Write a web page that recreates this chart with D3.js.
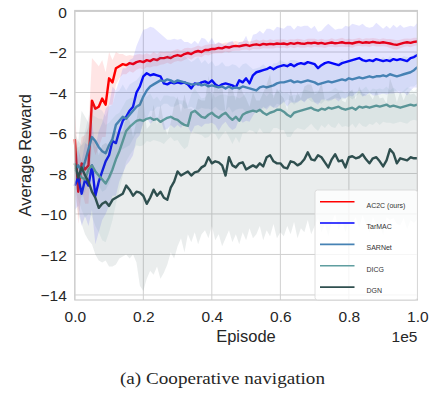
<!DOCTYPE html>
<html>
<head>
<meta charset="utf-8">
<script src="https://cdn.jsdelivr.net/npm/d3@7"></script>
<style>
  body { margin: 0; background: #fff; }
  svg text { font-family: "Liberation Sans", Arial, sans-serif; fill: #262626; }
  .caption { font-family: "Liberation Serif", "DejaVu Serif", serif; }
</style>
</head>
<body>
<div id="chart"></div>
<script>
// episodes, sampled every 1000 (0 .. 1e5)
const episodes = d3.range(0, 100001, 1000);

const yTicks = [0, -2, -4, -6, -8, -10, -12, -14];
const xTicks = [0, 20000, 40000, 60000, 80000, 100000];

const names = ["AC2C (ours)", "TarMAC", "SARNet", "DICG", "DGN"];
const colors = ["#ff0000", "#0000ff", "#4682b4", "#5f9ea0", "#2f4f4f"];

const ac2c = [-6.3,-8.9,-7.5,-7.8,-7.6,-4.4,-4.8,-4.7,-4.3,-4.6,-3.3,-3.5,-2.8,-2.7,-2.6,-2.65,-2.55,-2.6,-2.5,-2.45,
  -2.5,-2.4,-2.45,-2.35,-2.4,-2.3,-2.3,-2.25,-2.3,-2.2,
  -2.15,-2.2,-2.1,-2.05,-2.1,-2.0,-1.95,-2.0,-1.9,-1.9,
  -1.85,-1.85,-1.8,-1.82,-1.75,-1.78,-1.72,-1.7,-1.72,-1.68,
  -1.65,-1.7,-1.65,-1.62,-1.66,-1.6,-1.63,-1.6,-1.62,-1.58,
  -1.6,-1.58,-1.62,-1.56,-1.6,-1.55,-1.58,-1.6,-1.55,-1.57,
  -1.54,-1.58,-1.55,-1.6,-1.56,-1.53,-1.57,-1.55,-1.52,-1.56,
  -1.55,-1.58,-1.53,-1.5,-1.55,-1.52,-1.54,-1.5,-1.53,-1.55,
  -1.52,-1.55,-1.58,-1.62,-1.65,-1.6,-1.55,-1.52,-1.55,-1.5,
  -1.48];
const ac2cStd = [1.4,1.6,1.3,1.7,1.9,2.1,2.3,2.0,1.9,1.6,1.3,1.1,0.8,0.6,0.5,0.45,0.4,0.42,0.38,0.35,
  0.36,0.34,0.32,0.35,0.3,0.33,0.3,0.28,0.31,0.29,
  0.3,0.27,0.29,0.26,0.28,0.25,0.27,0.26,0.24,0.27,
  0.25,0.23,0.26,0.24,0.22,0.25,0.23,0.24,0.22,0.21,
  0.23,0.22,0.2,0.24,0.21,0.22,0.2,0.23,0.21,0.2,
  0.22,0.2,0.21,0.19,0.22,0.2,0.21,0.19,0.2,0.22,
  0.2,0.19,0.21,0.2,0.18,0.21,0.19,0.2,0.22,0.19,
  0.2,0.21,0.19,0.2,0.18,0.2,0.21,0.19,0.2,0.18,
  0.2,0.19,0.22,0.24,0.23,0.21,0.2,0.19,0.21,0.2,
  0.19];

const tarmac = [-8.6,-8.2,-9.0,-8.3,-8.6,-7.6,-9.1,-8.4,-7.9,-7.4,-7.1,-6.4,-6.5,-5.9,-5.4,-5.2,-4.9,-4.7,-4.0,-3.7,
  -3.2,-3.05,-3.15,-3.1,-3.15,-3.2,-3.55,-3.6,-3.5,-3.55,
  -3.5,-3.55,-3.5,-3.6,-3.8,-3.55,-3.6,-3.5,-3.45,-3.55,
  -3.4,-3.6,-3.7,-3.6,-3.55,-3.6,-3.65,-3.75,-3.4,-3.5,
  -3.3,-3.55,-3.15,-3.0,-2.95,-2.9,-2.85,-2.75,-2.85,-2.75,
  -2.7,-2.65,-2.7,-2.6,-2.7,-2.6,-2.55,-2.6,-2.5,-2.55,
  -2.6,-2.8,-2.65,-2.55,-2.5,-2.55,-2.6,-2.65,-2.55,-2.5,
  -2.45,-2.4,-2.35,-2.3,-2.4,-2.45,-2.4,-2.45,-2.35,-2.4,
  -2.45,-2.4,-2.45,-2.35,-2.4,-2.35,-2.4,-2.45,-2.3,-2.25,
  -2.15];
const tarmacStd = [1.2,1.4,1.6,1.8,2.0,2.2,2.4,2.5,2.4,2.6,2.5,2.7,2.6,2.5,2.6,2.4,2.5,2.4,2.3,2.4,
  2.3,2.2,2.4,2.3,2.2,2.1,2.3,2.2,2.1,2.2,
  2.1,2.2,2.0,2.1,2.2,2.1,2.0,2.2,2.1,2.0,
  2.1,2.0,2.2,2.0,1.9,2.1,2.2,2.0,1.9,2.0,
  2.1,1.9,2.0,1.9,2.0,1.8,2.0,1.9,1.9,2.0,
  1.9,1.8,2.0,1.9,1.8,1.9,1.8,1.9,1.8,1.7,
  1.9,1.8,1.7,1.8,1.9,1.8,1.7,1.8,1.7,1.8,
  1.7,1.8,1.7,1.6,1.8,1.7,1.6,1.7,1.8,1.7,
  1.6,1.7,1.6,1.7,1.6,1.7,1.6,1.7,1.6,1.5,
  1.6];

const sarnet = [-7.8,-7.6,-7.9,-7.4,-6.8,-6.2,-6.4,-6.7,-6.9,-7.0,-6.6,-6.3,-5.6,-5.4,-5.2,-5.3,-5.1,-4.9,-4.7,-4.6,
  -4.2,-3.9,-3.7,-3.6,-3.5,-3.4,-3.45,-3.35,-3.4,-3.5,
  -3.4,-3.45,-3.5,-3.55,-3.6,-3.6,-3.55,-3.65,-3.6,-3.7,
  -3.65,-3.7,-3.75,-3.7,-3.8,-3.7,-3.8,-3.75,-3.8,-3.7,
  -3.75,-3.8,-3.85,-3.9,-3.75,-3.7,-3.75,-3.7,-3.65,-3.55,
  -3.5,-3.5,-3.45,-3.4,-3.5,-3.45,-3.5,-3.45,-3.4,-3.45,
  -3.5,-3.6,-3.55,-3.5,-3.45,-3.5,-3.45,-3.4,-3.35,-3.4,
  -3.3,-3.35,-3.3,-3.25,-3.3,-3.25,-3.2,-3.25,-3.2,-3.2,
  -3.15,-3.2,-3.1,-3.15,-3.2,-3.15,-3.1,-3.05,-3.0,-2.9,
  -2.75];
const sarnetStd = [1.0,1.2,1.3,1.5,1.6,1.8,1.7,1.9,2.0,1.8,1.9,1.7,1.6,1.5,1.6,1.4,1.5,1.4,1.3,1.4,
  1.3,1.4,1.2,1.3,1.2,1.3,1.1,1.2,1.3,1.2,
  1.2,1.1,1.3,1.2,1.1,1.2,1.3,1.1,1.2,1.1,
  1.2,1.0,1.1,1.2,1.1,1.0,1.2,1.1,1.0,1.1,
  1.2,1.1,1.0,1.1,1.0,1.1,1.0,0.9,1.1,1.0,
  1.1,1.0,0.9,1.0,1.1,1.0,0.9,1.0,0.9,1.0,
  1.0,0.9,1.0,0.9,1.0,0.9,0.8,0.9,1.0,0.9,
  0.9,1.0,0.9,0.8,0.9,0.8,0.9,0.8,0.9,0.8,
  0.9,0.8,0.9,0.8,0.7,0.8,0.9,0.8,0.7,0.8,
  0.8];

const dicg = [-7.8,-8.0,-8.2,-8.3,-7.8,-7.6,-7.9,-8.1,-8.3,-8.5,-8.2,-7.8,-7.3,-6.9,-6.4,-5.9,-5.7,-5.55,-5.4,-5.35,
  -5.4,-5.3,-5.25,-5.35,-5.3,-5.45,-5.35,-5.25,-5.2,-5.3,
  -5.35,-5.5,-5.6,-5.65,-5.0,-4.9,-5.05,-5.2,-5.25,-5.1,
  -5.0,-5.15,-5.25,-5.1,-5.0,-5.2,-5.35,-5.2,-5.4,-5.1,
  -5.0,-4.95,-4.9,-4.95,-4.85,-5.0,-5.1,-5.0,-4.95,-4.85,
  -4.85,-4.95,-5.1,-5.2,-5.0,-4.95,-4.9,-4.85,-4.8,-4.75,
  -4.85,-4.9,-4.8,-4.85,-4.75,-4.8,-4.75,-4.7,-4.8,-4.85,
  -4.8,-4.75,-4.85,-4.7,-4.75,-4.7,-4.75,-4.7,-4.65,-4.7,
  -4.65,-4.6,-4.7,-4.65,-4.7,-4.75,-4.7,-4.65,-4.6,-4.65,
  -4.6];
const dicgStd = [1.0,1.3,1.6,1.9,2.2,2.5,2.7,2.8,3.0,2.9,2.7,2.5,2.2,1.9,1.7,1.5,1.4,1.3,1.2,1.3,
  1.2,1.1,1.2,1.0,1.1,1.0,1.2,1.1,1.0,1.1,
  1.0,1.1,1.2,1.0,0.9,1.1,1.0,0.9,1.0,1.1,
  1.0,0.9,1.1,1.0,0.9,1.0,1.2,1.0,1.1,0.9,
  1.0,0.9,1.0,1.1,0.9,1.0,0.9,1.0,0.8,0.9,
  1.0,0.9,1.1,1.0,0.9,0.8,0.9,1.0,0.9,0.8,
  0.9,1.0,0.8,0.9,0.8,0.9,1.0,0.8,0.9,0.8,
  0.9,0.8,0.9,0.8,0.9,1.0,0.8,0.9,0.8,0.9,
  0.8,0.9,0.8,0.9,0.8,0.7,0.8,0.9,0.8,0.7,
  0.8];

const dgn = [-7.5,-8.2,-7.7,-8.1,-8.4,-8.9,-9.2,-9.7,-9.5,-9.4,-9.6,-9.3,-9.2,-9.1,-9.0,-8.6,-8.8,-9.1,-8.9,-8.95,
  -9.1,-9.5,-9.2,-8.8,-9.1,-8.9,-9.2,-9.3,-8.7,-8.4,
  -7.9,-8.1,-8.0,-7.9,-8.1,-7.95,-7.9,-7.7,-7.6,-7.2,
  -7.5,-7.4,-7.45,-7.6,-8.1,-7.2,-7.6,-7.7,-7.5,-7.45,
  -7.8,-7.7,-7.6,-7.7,-7.5,-7.65,-7.2,-7.1,-7.4,-7.5,
  -7.5,-7.7,-7.75,-7.4,-7.45,-7.6,-7.5,-7.3,-6.95,-7.3,
  -7.35,-7.1,-7.2,-7.45,-7.7,-7.3,-7.05,-7.4,-7.35,-7.7,
  -7.2,-7.15,-7.25,-7.2,-7.05,-7.3,-7.5,-7.25,-7.2,-7.4,
  -7.65,-7.35,-6.8,-7.0,-7.5,-7.25,-7.3,-7.35,-7.2,-7.25,
  -7.25];
const dgnStd = [1.5,1.8,2.8,2.9,2.9,2.6,2.8,2.6,2.9,2.9,3.0,3.3,3.3,3.1,3.1,3.4,3.4,2.9,3.5,4.6,
  4.7,3.7,3.6,4.2,3.5,4.3,3.7,3.2,3.2,3.8,
  3.7,3.1,3.9,3.1,3.3,2.95,3.6,3.3,3.2,4.0,
  3.1,3.9,3.55,4.0,3.1,3.6,3.8,3.3,4.0,3.45,
  3.5,3.0,3.6,3.3,3.1,3.65,3.6,4.0,3.1,3.7,
  3.4,3.4,2.85,3.6,2.95,3.6,3.2,3.6,3.35,3.7,
  3.25,3.1,3.7,3.05,3.4,3.1,2.95,3.4,2.95,3.2,
  3.2,3.3,2.9,3.5,3.0,3.2,3.4,2.9,3.3,3.1,
  3.4,2.8,3.5,3.2,3.0,3.3,2.9,3.4,3.1,3.2,
  3.0];

const series = [
  { mean: ac2c, std: ac2cStd },
  { mean: tarmac, std: tarmacStd },
  { mean: sarnet, std: sarnetStd },
  { mean: dicg, std: dicgStd },
  { mean: dgn, std: dgnStd }
];

const width = 435, height = 394;
const plotLeft = 74.8, plotRight = 417.4, plotTop = 10.5, plotBottom = 300;

const svg = d3.select("#chart").append("svg")
  .attr("width", width)
  .attr("height", height);

const x = d3.scaleLinear().domain([0, 100000]).range([plotLeft, plotRight]);
const y = d3.scaleLinear().domain([0.05, -14.25]).range([plotTop, plotBottom]);

/* grid */
svg.append("g")
  .selectAll("line")
  .data(xTicks).enter()
  .append("line")
  .attr("x1", d => x(d)).attr("x2", d => x(d))
  .attr("y1", plotTop).attr("y2", plotBottom)
  .attr("stroke", "#d0d0d0").attr("stroke-width", 1);

svg.append("g")
  .selectAll("line")
  .data(yTicks).enter()
  .append("line")
  .attr("x1", plotLeft).attr("x2", plotRight)
  .attr("y1", d => y(d)).attr("y2", d => y(d))
  .attr("stroke", "#d0d0d0").attr("stroke-width", 1);

const plot = svg.append("g");

const area = d3.area()
  .x((d, i) => x(episodes[i]))
  .y0(d => y(d[0] - d[1]))
  .y1(d => y(d[0] + d[1]));

const line = d3.line()
  .x((d, i) => x(episodes[i]))
  .y(d => y(d));

series.forEach((s, k) => {
  const pairs = s.mean.map((m, i) => [m, s.std[i]]);
  plot.append("path")
    .attr("d", area(pairs))
    .attr("fill", colors[k])
    .attr("fill-opacity", 0.1);
  plot.append("path")
    .attr("d", line(s.mean))
    .attr("fill", "none")
    .attr("stroke", colors[k])
    .attr("stroke-width", 2.4)
    .attr("stroke-linejoin", "round");
});

/* frame */
svg.append("rect")
  .attr("x", plotLeft).attr("y", plotTop)
  .attr("width", plotRight - plotLeft).attr("height", plotBottom - plotTop)
  .attr("fill", "none").attr("stroke", "#cccccc").attr("stroke-width", 1.2);

/* Axes */
const xAxis = d3.axisBottom(x).tickValues(xTicks).tickSize(0)
  .tickFormat(d => (d / 100000).toFixed(1));
const yAxis = d3.axisLeft(y).tickValues(yTicks).tickSize(0)
  .tickFormat(d => d < 0 ? "\u2212" + Math.abs(d) : d);

const gx = svg.append("g")
  .attr("transform", `translate(0, ${plotBottom})`)
  .call(xAxis);
gx.select(".domain").remove();
gx.selectAll("text").attr("dy", "0").attr("y", 22).style("font-size", "15.5px");

const gy = svg.append("g")
  .attr("transform", `translate(${plotLeft}, 0)`)
  .call(yAxis);
gy.select(".domain").remove();
gy.selectAll("text").attr("x", -8).attr("dy", "0.36em").style("font-size", "15.5px");

svg.append("text")
  .attr("x", 246).attr("y", 342)
  .attr("text-anchor", "middle")
  .style("font-size", "16.5px")
  .text("Episode");

svg.append("text")
  .attr("x", plotRight).attr("y", 342)
  .attr("text-anchor", "end")
  .style("font-size", "15.5px")
  .text("1e5");

svg.append("text")
  .attr("transform", `translate(31, ${(plotTop + plotBottom) / 2}) rotate(-90)`)
  .attr("text-anchor", "middle")
  .style("font-size", "16.5px")
  .text("Average Reward");

/* legend */
const legend = svg.append("g");
legend.append("rect")
  .attr("x", 315).attr("y", 190)
  .attr("width", 102.5).attr("height", 110)
  .attr("rx", 2.5)
  .attr("fill", "#ffffff").attr("fill-opacity", 0.8)
  .attr("stroke", "#d5d5d5").attr("stroke-width", 0.8);

names.forEach((n, k) => {
  const ly = 201.7 + k * 21.35;
  legend.append("line")
    .attr("x1", 320).attr("x2", 354.5)
    .attr("y1", ly).attr("y2", ly)
    .attr("stroke", colors[k]).attr("stroke-width", 1.6);
  legend.append("text")
    .attr("x", 366.5).attr("y", ly + 5.8)
    .style("font-size", "7px")
    .style("fill", "#333")
    .text(n);
});

svg.append("text")
  .attr("class", "caption")
  .attr("x", 222.5).attr("y", 384)
  .attr("text-anchor", "middle")
  .attr("textLength", 205)
  .attr("lengthAdjust", "spacingAndGlyphs")
  .style("font-size", "17.5px")
  .text("(a) Cooperative navigation");
</script>
</body>
</html>
